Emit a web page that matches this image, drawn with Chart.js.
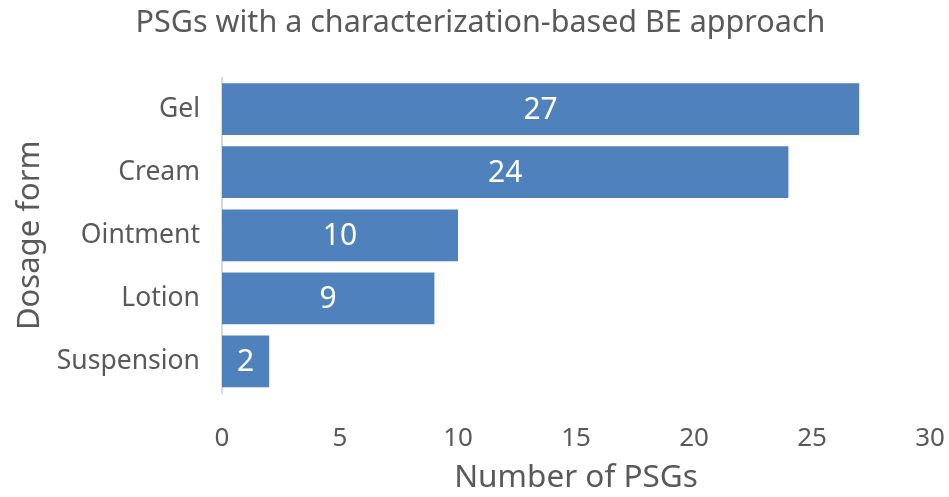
<!DOCTYPE html>
<html>
<head>
<meta charset="utf-8">
<script src="https://cdn.jsdelivr.net/npm/chart.js@4"></script>
<style>
    html, body { margin: 0; padding: 0; background: #fff; }
    #wrap { width: 949px; height: 497px; }
</style>
</head>
<body>
<div id="wrap"><canvas id="psgChart" width="949" height="497"></canvas></div>
<script>
// Data
const dosageForms = ['Gel', 'Cream', 'Ointment', 'Lotion', 'Suspension'];
const psgCounts = [27, 24, 10, 9, 2];
const xTicks = [0, 5, 10, 15, 20, 25, 30];

const FONT = '"Noto Sans", "Open Sans", sans-serif';
const GREY = '#595959';

// white value labels in the middle of each bar
const barLabels = {
    id: 'barLabels',
    afterDatasetsDraw(chart) {
        const ctx = chart.ctx;
        const meta = chart.getDatasetMeta(0);
        ctx.save();
        ctx.fillStyle = '#ffffff';
        ctx.font = '30px ' + FONT;
        ctx.textAlign = 'center';
        ctx.textBaseline = 'middle';
        meta.data.forEach((bar, i) => {
            const p = bar.getProps(['x', 'y', 'base'], true);
            ctx.fillText(String(psgCounts[i]), (p.x + p.base) / 2, p.y + 1);
        });
        ctx.restore();
    }
};

new Chart(document.getElementById('psgChart'), {
    type: 'bar',
    data: {
        labels: dosageForms,
        datasets: [{
            data: psgCounts,
            backgroundColor: '#4f81bd',
            borderWidth: 0,
            categoryPercentage: 1,
            barPercentage: 0.82
        }]
    },
    options: {
        indexAxis: 'y',
        responsive: false,
        animation: false,
        layout: { padding: { left: 12, right: 0, top: 0, bottom: 0 } },
        plugins: {
            legend: { display: false },
            tooltip: { enabled: false },
            title: {
                display: true,
                text: 'PSGs with a characterization-based BE approach',
                color: GREY,
                font: { family: FONT, size: 30.5, weight: 'normal' },
                padding: { top: 5, bottom: 36 }
            }
        },
        scales: {
            x: {
                min: 0,
                max: 30,
                afterBuildTicks(scale) {
                    scale.ticks = xTicks.map(v => ({ value: v }));
                },
                afterFit(scale) {
                    scale.height = 104;
                    scale.paddingLeft = 0;
                    scale.paddingRight = 19;
                },
                grid: { display: false },
                border: { display: false },
                ticks: {
                    color: GREY,
                    padding: 22,
                    font: { family: FONT, size: 26 }
                },
                title: {
                    display: true,
                    text: 'Number of PSGs',
                    color: GREY,
                    font: { family: FONT, size: 31.5 },
                    padding: { top: 13, bottom: 0 }
                }
            },
            y: {
                afterFit(scale) { scale.width = 210; },
                grid: { display: false },
                border: { display: true, color: '#d9d9d9', width: 2 },
                ticks: {
                    color: GREY,
                    padding: 14,
                    font: { family: FONT, size: 26.5 }
                },
                title: {
                    display: true,
                    text: 'Dosage form',
                    color: GREY,
                    font: { family: FONT, size: 31 },
                    padding: { top: 0, bottom: 0 }
                }
            }
        }
    },
    plugins: [barLabels]
});
</script>
</body>
</html>
